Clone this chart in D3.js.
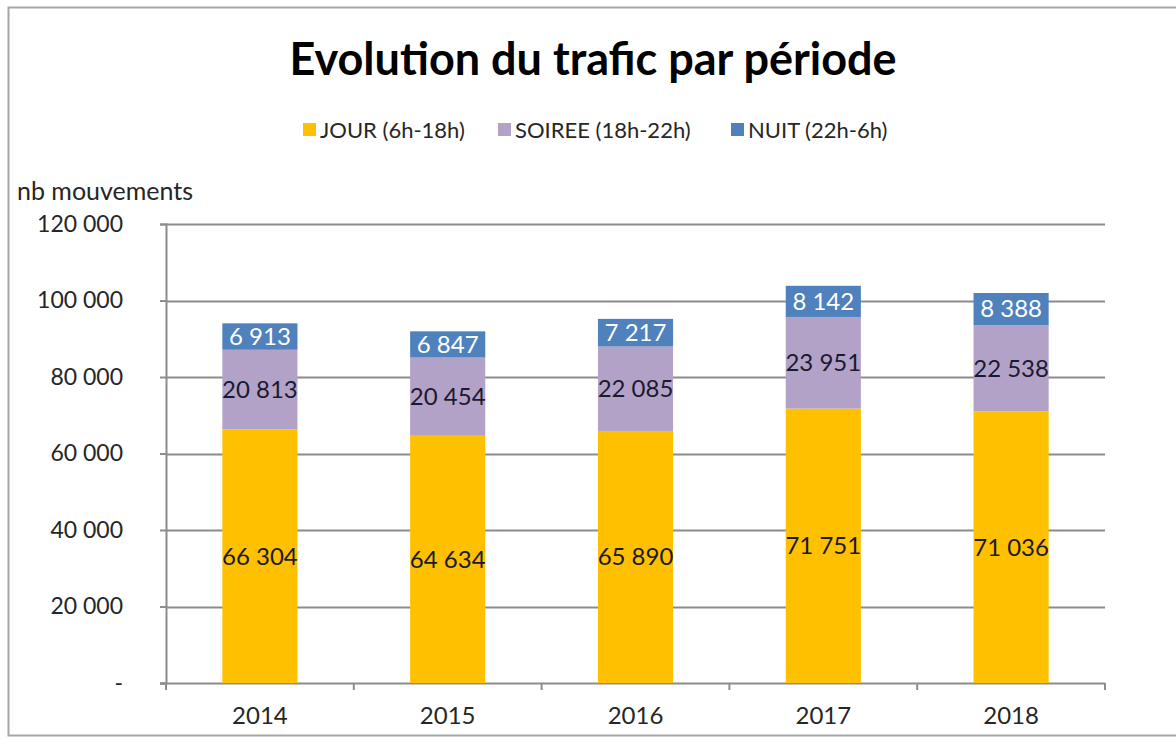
<!DOCTYPE html>
<html>
<head>
<meta charset="utf-8">
<script src="https://cdn.jsdelivr.net/npm/d3@7"></script>
<style>
  body { margin: 0; background: #fff; }
  svg { display: block; font-family: Lato, "Open Sans", sans-serif; }
</style>
</head>
<body>
<div id="graphic"></div>
<script>
// data
var years = ["2014", "2015", "2016", "2017", "2018"];
var jour = [66304, 64634, 65890, 71751, 71036];
var soiree = [20813, 20454, 22085, 23951, 22538];
var nuit = [6913, 6847, 7217, 8142, 8388];
var seriesNames = ["JOUR (6h-18h)", "SOIREE (18h-22h)", "NUIT (22h-6h)"];
var yTicks = [0, 20000, 40000, 60000, 80000, 100000, 120000];

var colors = { jour: "#FFC000", soiree: "#B3A2C7", nuit: "#4F81BD" };
var keys = ["jour", "soiree", "nuit"];

var width = 1176, height = 743;
var margin = { top: 224, left: 166, right: 71, bottom: 60 };

var svg = d3.select("#graphic").append("svg")
    .attr("width", width)
    .attr("height", height);

// outer frame
svg.append("rect")
    .attr("x", 8.5).attr("y", 7.5)
    .attr("width", width + 10).attr("height", 728)
    .attr("fill", "none")
    .attr("stroke", "#a6a6a6")
    .attr("stroke-width", 2);

var rows = years.map(function(y, i) {
    return { year: y, jour: jour[i], soiree: soiree[i], nuit: nuit[i] };
});

var x = d3.scaleBand()
    .domain(years)
    .range([margin.left, width - margin.right])
    .paddingInner(0.6)
    .paddingOuter(0.3);

var y = d3.scaleLinear()
    .domain([0, 120000])
    .range([height - margin.bottom, margin.top]);

var fmt = function(v) {
    return d3.format(",")(v).replace(/,/g, " ");
};

// gridlines
svg.append("g")
    .selectAll("line")
    .data(yTicks.slice(1))
    .enter().append("line")
        .attr("x1", margin.left)
        .attr("x2", width - margin.right)
        .attr("y1", function(d) { return Math.round(y(d)) + 0.5; })
        .attr("y2", function(d) { return Math.round(y(d)) + 0.5; })
        .attr("stroke", "#8c8c8c")
        .attr("stroke-width", 2);

// y axis
var yAxis = svg.append("g")
    .attr("transform", "translate(" + margin.left + ",0)")
    .call(d3.axisLeft(y)
        .tickValues(yTicks)
        .tickSize(6)
        .tickPadding(37)
        .tickFormat(function(d) { return d === 0 ? "-" : fmt(d); }));
yAxis.select(".domain").attr("stroke", "#8c8c8c").attr("stroke-width", 2);
yAxis.selectAll(".tick line").attr("stroke", "#8c8c8c").attr("stroke-width", 2);
yAxis.selectAll(".tick text")
    .attr("font-size", 23)
    .attr("fill", "#262626")
    .style("font-family", "Lato, sans-serif");

// x axis
var xAxis = svg.append("g")
    .attr("transform", "translate(0," + (height - margin.bottom) + ")")
    .call(d3.axisBottom(x).tickSize(0).tickPadding(24));
xAxis.select(".domain").remove();
xAxis.selectAll(".tick text")
    .attr("font-size", 24)
    .attr("fill", "#262626")
    .style("font-family", "Lato, sans-serif");

svg.append("line")
    .attr("x1", margin.left - 6).attr("x2", width - margin.right)
    .attr("y1", y(0) + 0.5).attr("y2", y(0) + 0.5)
    .attr("stroke", "#8c8c8c").attr("stroke-width", 2);

// category separator ticks
var sepX = years.map(function(d) { return x(d) - x.step() * x.paddingInner() / 2; });
sepX.push(width - margin.right);
svg.append("g").selectAll("line")
    .data(sepX)
    .enter().append("line")
        .attr("x1", function(d) { return d; })
        .attr("x2", function(d) { return d; })
        .attr("y1", y(0))
        .attr("y2", y(0) + 7)
        .attr("stroke", "#8c8c8c")
        .attr("stroke-width", 2);

// stacked bars
var stack = d3.stack().keys(keys)(rows);

var layers = svg.append("g").selectAll("g")
    .data(stack)
    .enter().append("g")
        .attr("fill", function(d) { return colors[d.key]; });

layers.selectAll("rect")
    .data(function(d) { return d; })
    .enter().append("rect")
        .attr("x", function(d) { return x(d.data.year); })
        .attr("y", function(d) { return y(d[1]); })
        .attr("width", x.bandwidth())
        .attr("height", function(d) { return y(d[0]) - y(d[1]); });

// value labels
stack.forEach(function(layer) {
    svg.append("g").selectAll("text")
        .data(layer)
        .enter().append("text")
            .attr("x", function(d) { return x(d.data.year) + x.bandwidth() / 2; })
            .attr("y", function(d) { return (y(d[0]) + y(d[1])) / 2; })
            .attr("dy", "0.35em")
            .attr("text-anchor", "middle")
            .attr("font-size", 24)
            .attr("fill", layer.key === "nuit" ? "#ffffff" : "#1a1a2e")
            .text(function(d) { return fmt(d[1] - d[0]); });
});

// title
svg.append("text")
    .attr("x", 593).attr("y", 75)
    .attr("text-anchor", "middle")
    .attr("font-size", 45)
    .attr("font-weight", "bold")
    .attr("fill", "#000")
    .text("Evolution du trafic par période");

// axis label
svg.append("text")
    .attr("x", 17).attr("y", 200)
    .attr("font-size", 25)
    .attr("fill", "#262626")
    .text("nb mouvements");

// legend
var legendX = [303, 498, 731];
var legend = svg.append("g").attr("class", "legend");
legend.selectAll("rect")
    .data(keys)
    .enter().append("rect")
        .attr("x", function(d, i) { return legendX[i]; })
        .attr("y", 123)
        .attr("width", 13)
        .attr("height", 13)
        .attr("fill", function(d) { return colors[d]; });
legend.selectAll("text")
    .data(seriesNames)
    .enter().append("text")
        .attr("x", function(d, i) { return legendX[i] + 17; })
        .attr("y", 138)
        .attr("font-size", 22)
        .attr("fill", "#262626")
        .text(function(d) { return d; });
</script>
</body>
</html>
